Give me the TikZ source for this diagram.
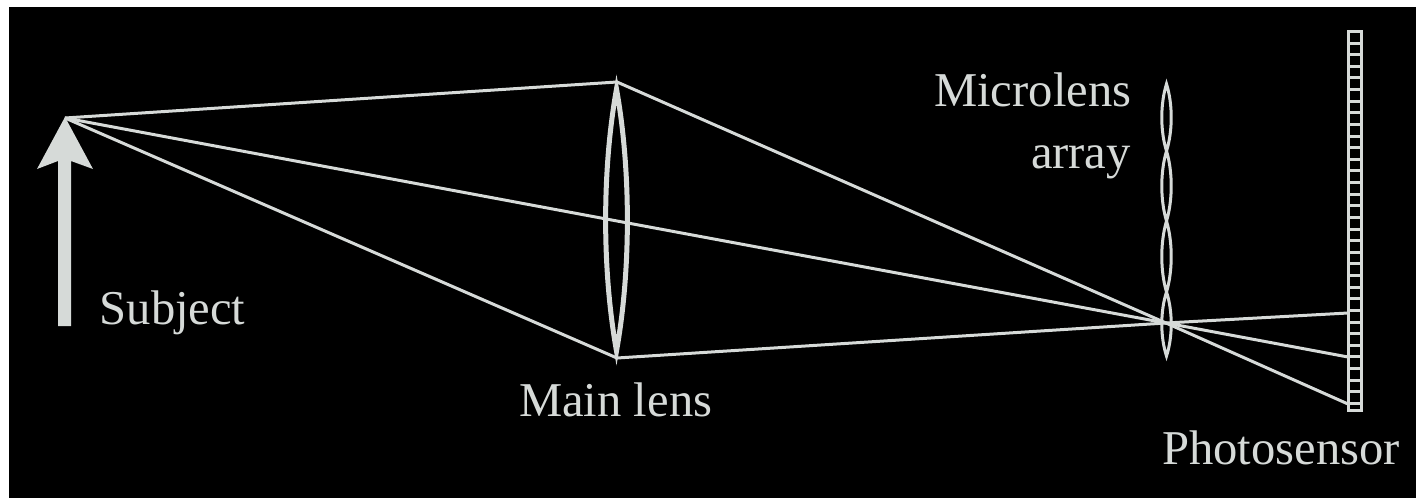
\documentclass[tikz,border=0pt]{standalone}
\usepackage{fontspec}
\setmainfont{Liberation Serif}
\definecolor{ink}{RGB}{214,218,216}
\tikzset{
  x=1pt,y=-1pt,
  ray/.style={draw=ink,line width=3pt,line join=round},
  lensline/.style={draw=ink,line width=5pt,line join=miter,miter limit=8},
  microline/.style={draw=ink,line width=3pt,miter limit=4},
  sensorline/.style={draw=ink,line width=3pt},
  lbl/.style={text=ink,font=\fontsize{48.6}{54}\selectfont,inner sep=0pt},
}
\begin{document}
\begin{tikzpicture}
\useasboundingbox (0,0) rectangle (1416,498);
\fill[white] (0,0) rectangle (1416,498);
\fill[black] (9,7) rectangle (1416,498);
% named points
\coordinate (tip) at (65,118);
\coordinate (ltop) at (617,82);
\coordinate (lbot) at (617,358);
\coordinate (lmid) at (617,221);
\coordinate (focus) at (1166,323);
\coordinate (s1) at (1348,313);
\coordinate (s2) at (1348,357);
\coordinate (s3) at (1348,404);
% subject arrow
\fill[ink] (65,117) -- (93,169) -- (71,161) -- (71,326) -- (58,326) -- (58,161) -- (37,169) -- cycle;
% rays
\draw[ray] (tip) -- (ltop) -- (focus) -- (s3);
\draw[ray] (tip) -- (lmid) -- (focus) -- (s2);
\draw[ray] (tip) -- (lbot) -- (focus) -- (s1);
% main lens
\path[lensline] (616.5,89) .. controls (602,170) and (602,270) .. (616.5,351)
  .. controls (631,270) and (631,170) .. (616.5,89) -- cycle;
% microlenses
\foreach \a/\b in {84/151,151/221,221/292,292/356}{
  \path[microline] (1166.5,\a) .. controls ({1166.5-6.3},{\a+(\b-\a)*0.3}) and ({1166.5-6.3},{\a+(\b-\a)*0.7}) .. (1166.5,\b)
    .. controls ({1166.5+6.3},{\a+(\b-\a)*0.7}) and ({1166.5+6.3},{\a+(\b-\a)*0.3}) .. (1166.5,\a) -- cycle;
}
% photosensor
\path[sensorline] (1348.5,31.5) rectangle (1361.5,410.5);
\foreach \i in {1,...,32}{
  \draw[sensorline] (1348.5,{31.5+11.62*\i}) -- (1361.5,{31.5+11.62*\i});
}
% labels
\node[lbl,anchor=base west] (subject) at (99.5,324) {Subject};
\node[lbl,anchor=base west] (mainlens) at (519,416) {Main lens};
\node[lbl,anchor=base east] (micro) at (1131.5,106) {Microlens};
\node[lbl,anchor=base east] (array) at (1131,168) {array};
\node[lbl,anchor=base west] (photo) at (1162,464) {Photosensor};
\end{tikzpicture}
\end{document}
